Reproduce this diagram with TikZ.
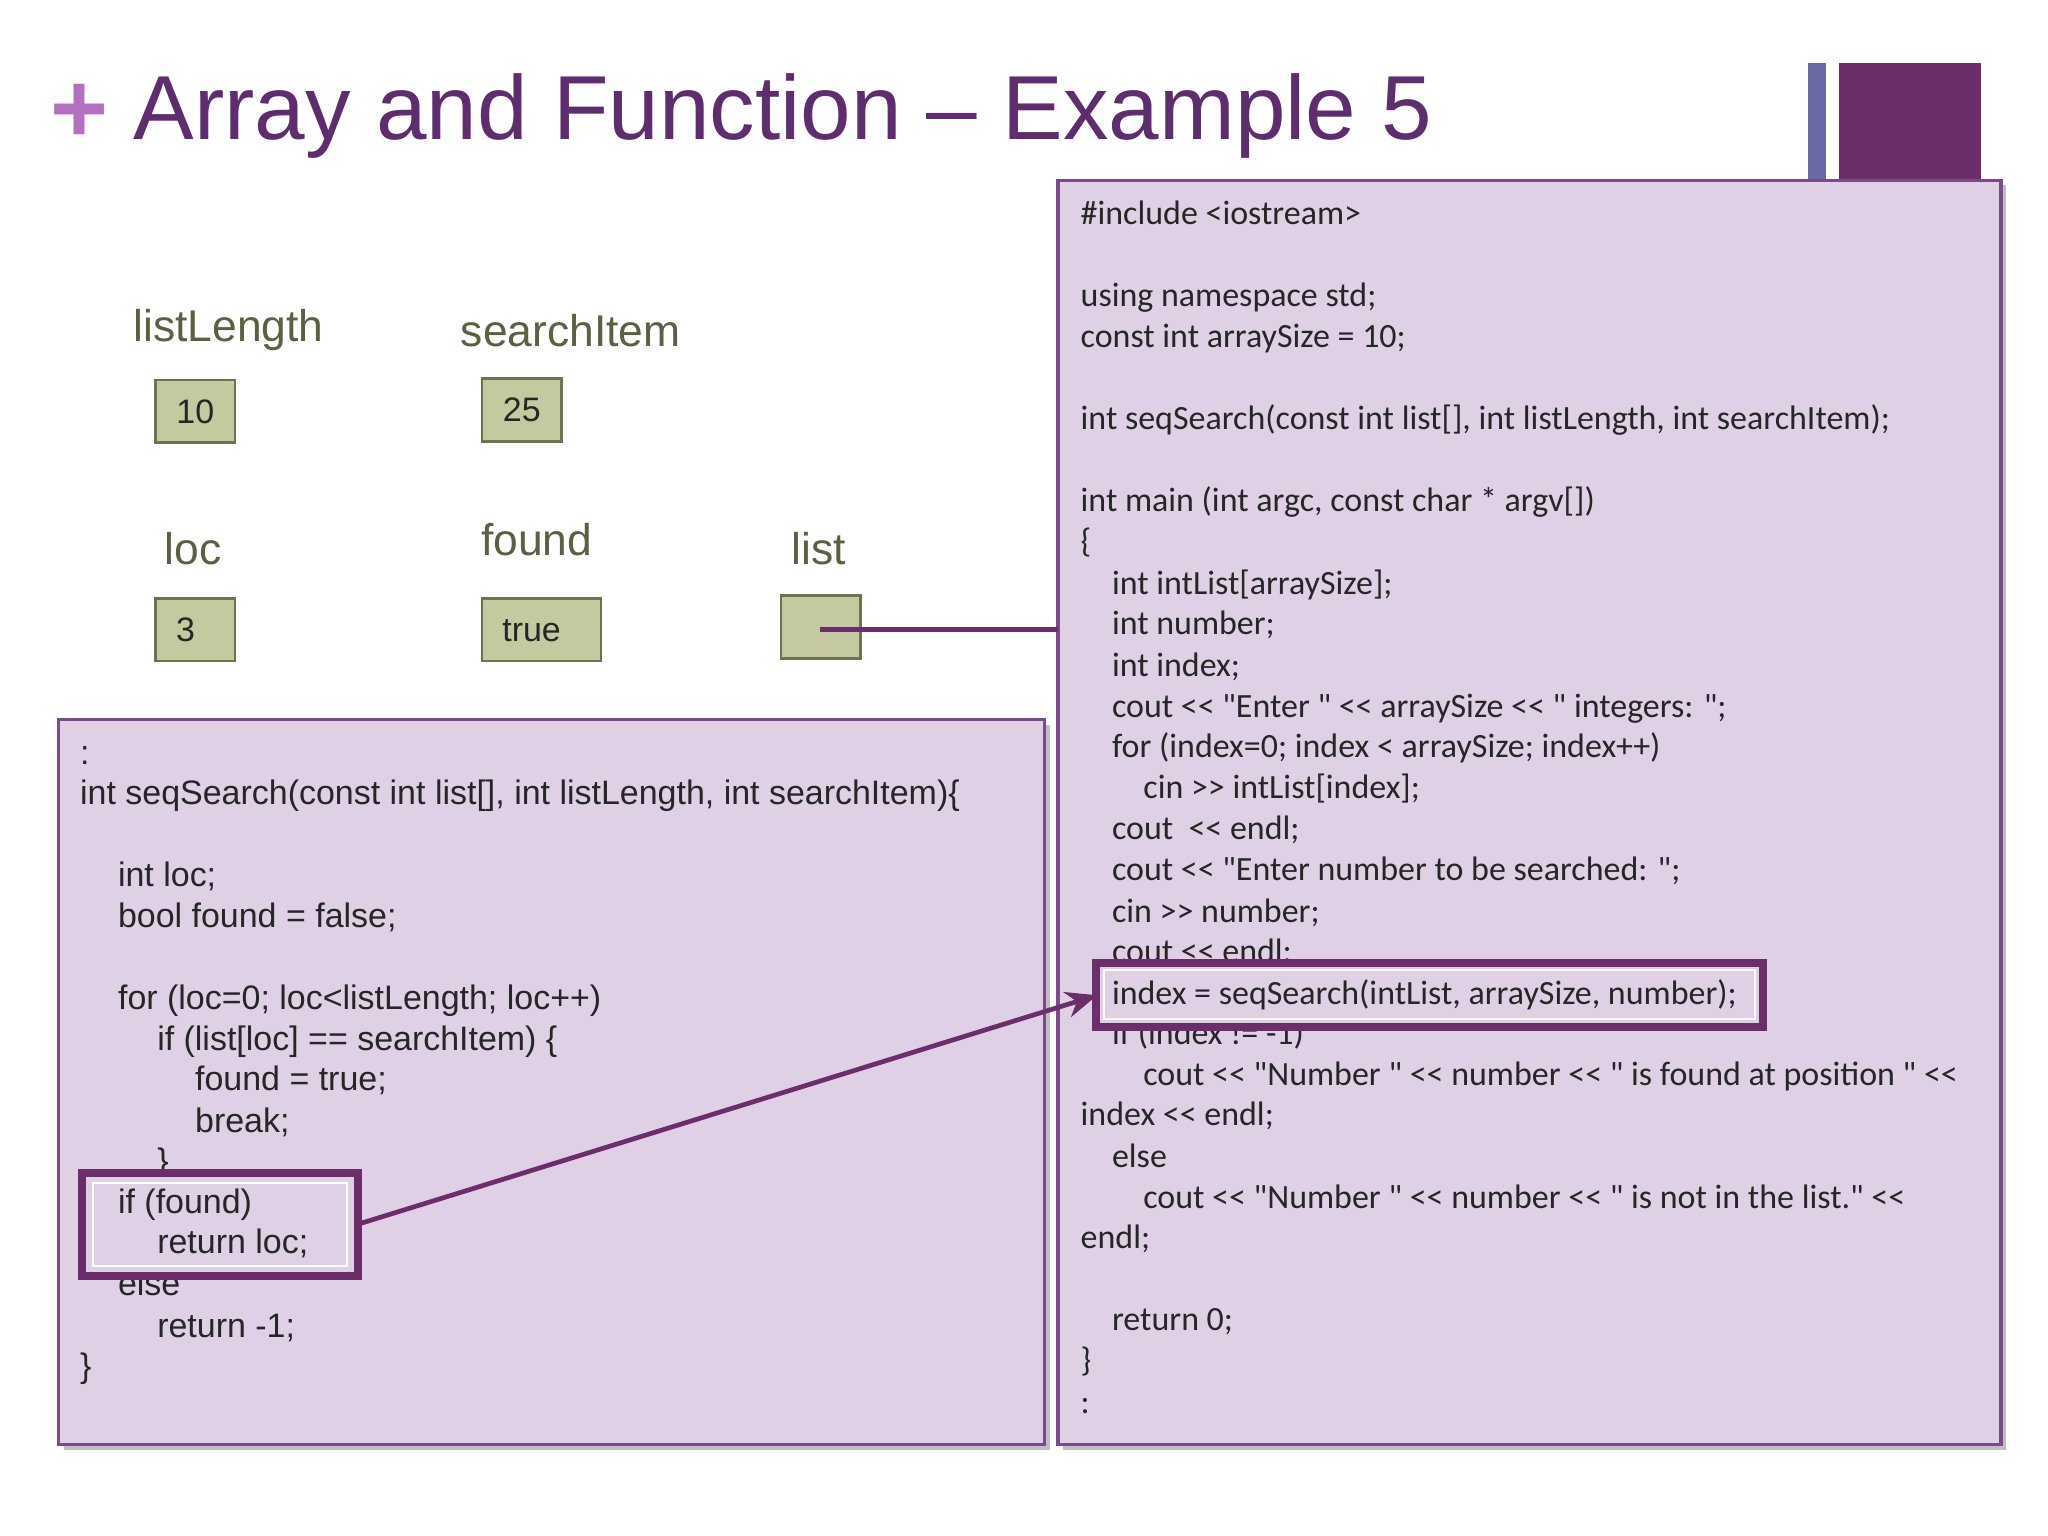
\documentclass[tikz,border=0pt]{standalone}
\usepackage{fontspec}
\setmainfont{Liberation Sans}
\newfontfamily\codefont{Carlito}
\usetikzlibrary{arrows.meta}
\definecolor{ttl}{HTML}{5E2D6E}
\definecolor{plus}{HTML}{B36FC0}
\definecolor{lav}{HTML}{E0D0E6}
\definecolor{pbord}{HTML}{7A4A8A}
\definecolor{dpur}{HTML}{6B2E6B}
\definecolor{bbar}{HTML}{6A6AA6}
\definecolor{vlab}{HTML}{5A6040}
\definecolor{vfill}{HTML}{C4C9A0}
\definecolor{vbord}{HTML}{6D7350}
\tikzset{
 panel/.style={draw=pbord,line width=1.2pt,fill=lav},
 shadowp/.style={fill=black!25},
 vname/.style={text=vlab,font=\fontsize{17}{20}\selectfont},
 vbox/.style={draw=vbord,line width=1pt,fill=vfill},
 vval/.style={font=\fontsize{13}{15}\selectfont,text=black!85},
 lc/.style={anchor=base west,inner sep=0pt,font=\fontsize{13}{15}\selectfont,text=black!85},
 rc/.style={anchor=base west,inner sep=0pt,font=\codefont\fontsize{13}{15}\selectfont,text=black!85},
 hl/.style={draw=dpur,line width=3pt,fill=lav},
 hlin/.style={draw=white,line width=0.8pt},
 conn/.style={draw=dpur,line width=1.8pt}
}
\begin{document}
\begin{tikzpicture}[x=0.5pt,y=-0.5pt]
\useasboundingbox (0,0) rectangle (1568,1176);
\fill[white] (0,0) rectangle (1568,1176);
% title
\node[text=plus,font=\bfseries\fontsize{38}{40}\selectfont,inner sep=0pt] (plus) at (61,87) {+};
\node[anchor=base west,inner sep=0pt,text=ttl,font=\fontsize{34.8}{38}\selectfont] (title) at (102,107) {Array and Function -- Example 5};
\fill[bbar] (1384,48) rectangle (1398,137);
\fill[dpur] (1408,48) rectangle (1517,137);
% panels
\fill[shadowp] (814,142) rectangle (1536,1110);
\path[panel] (810,138) rectangle (1532,1106);
\fill[shadowp] (49,555) rectangle (804,1110);
\path[panel] (45,551) rectangle (800,1106);
% variables
\node[vname] (nLL) at (175,253) {listLength};
\node[vname] (nSI) at (437,253) {searchItem};
\node[vname] (nloc) at (148,420) {loc};
\node[vname] (nfound) at (411,413) {found};
\node[vname] (nlist) at (627,420) {list};
\path[vbox] (119,291) rectangle (180,339); \node[vval] (v10) at (149.5,315) {10};
\path[vbox] (369,290) rectangle (430,338); \node[vval] (v25) at (399.5,314) {25};
\path[vbox] (119,458) rectangle (180,506); \node[vval] (v3) at (142,482) {3};
\path[vbox] (369,458) rectangle (460,506); \node[vval] (vtrue) at (407,483) {true};
\path[vbox] (598,456) rectangle (659,504);
\coordinate (lp) at (628,482);
\coordinate (rp) at (810,482);
\draw[conn] (lp) -- (rp);
% left code
\node[lc] at (61,585) {:};
\node[lc] at (61,616) {int seqSearch(const int list[], int listLength, int searchItem)\{};
\node[lc] at (90,679) {int loc;};
\node[lc] at (90,710) {bool found = false;};
\node[lc] at (90,773) {for (loc=0; loc<listLength; loc++)};
\node[lc] at (120,804) {if (list[loc] == searchItem) \{};
\node[lc] at (149,835) {found = true;};
\node[lc] at (149,867) {break;};
\node[lc] at (120,898) {\}};
\node[lc] at (90,992) {else};
\node[lc] at (120,1024) {return -1;};
\node[lc] at (61,1055) {\}};
\path[hl] (63,898) rectangle (274,977);
\draw[hlin] (71,906) rectangle (266,969);
\node[lc] at (90,929) {if (found)};
\node[lc] at (120,960) {return loc;};
\coordinate (la) at (275,937);
% right code
\node[rc] at (827,172) {\#include <iostream>};
\node[rc] at (827,235) {using namespace std;};
\node[rc] at (827,266) {const int arraySize = 10;};
\node[rc] at (827,329) {int seqSearch(const int list[], int listLength, int searchItem);};
\node[rc] at (827,392) {int main (int argc, const char * argv[])};
\node[rc] at (827,423) {\{};
\node[rc] at (851,455) {int intList[arraySize];};
\node[rc] at (851,486) {int number;};
\node[rc] at (851,518) {int index;};
\node[rc] at (851,549) {cout << "Enter " << arraySize << " integers: ";};
\node[rc] at (851,580) {for (index=0; index < arraySize; index++)};
\node[rc] at (875,611) {cin >> intList[index];};
\node[rc] at (851,643) {cout \ << endl;};
\node[rc] at (851,674) {cout << "Enter number to be searched: ";};
\node[rc] at (851,706) {cin >> number;};
\node[rc] at (851,737) {cout << endl;};
\node[rc] at (851,800) {if (index != -1)};
\node[rc] at (875,831) {cout << "Number " << number << " is found at position " <<};
\node[rc] at (827,862) {index << endl;};
\node[rc] at (851,894) {else};
\node[rc] at (875,925) {cout << "Number " << number << " is not in the list." <<};
\node[rc] at (827,956) {endl;};
\node[rc] at (851,1019) {return 0;};
\node[rc] at (827,1050) {\}};
\node[rc] at (827,1082) {:};
\path[hl] (839,737) rectangle (1350,786);
\draw[hlin] (845,743) rectangle (1344,780);
\node[rc] (call) at (851,769) {index = seqSearch(intList, arraySize, number);};
\coordinate (ra) at (840,762);
\draw[conn,-{Stealth[length=12pt,width=10pt]}] (la) -- (ra);
\end{tikzpicture}
\end{document}
